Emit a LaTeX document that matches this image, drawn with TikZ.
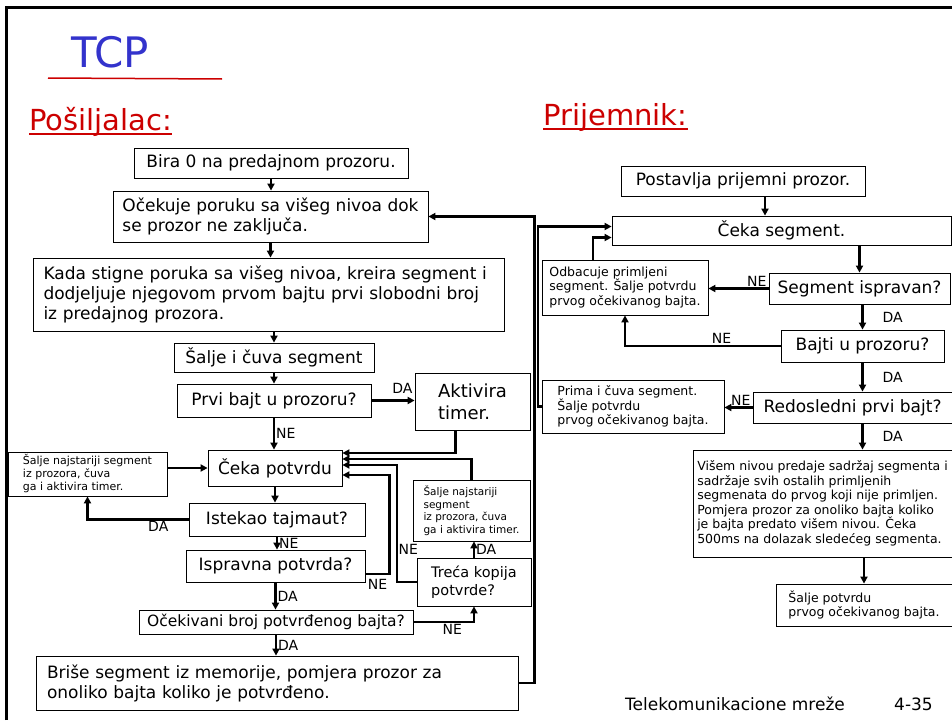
\documentclass[tikz,border=0pt]{standalone}
\usepackage{fontspec}
\setmainfont{DejaVu Sans}
\usepackage{tikz}
\usetikzlibrary{arrows.meta,calc,positioning}
\definecolor{tcpblue}{RGB}{51,51,204}
\definecolor{tcpred}{RGB}{204,0,0}

\begin{document}
\begin{tikzpicture}[x=1pt,y=-1pt,
    box/.style 2 args={draw,line width=0.8pt,minimum width=#1,minimum height=#2,inner sep=2pt,align=left,font=\fontsize{17}{20}\selectfont},
    smalltxt/.style={font=\fontsize{11}{13}\selectfont},
    midtxt/.style={font=\fontsize{12.5}{14.5}\selectfont},
    arr/.style={line width=2.2pt,-{Triangle[length=7pt,width=7pt]}},
    lab/.style={font=\fontsize{14}{14}\selectfont,inner sep=1pt}]
\useasboundingbox (0,0) rectangle (952,720);
\draw[line width=3pt] (6,720) -- (6,7) -- (952,7);

\node[text=tcpblue,font=\fontsize{42}{42}\selectfont,anchor=base west,inner sep=0pt] (tcp) at (71,67) {TCP};
\draw[tcpred,line width=1.5pt] (48,78) -- (222,79);
\node[text=tcpred,font=\fontsize{29}{29}\selectfont,anchor=base west,inner sep=0pt] (posiljalac) at (29,130) {Pošiljalac:};
\draw[tcpred,line width=2pt] ([yshift=-4pt]posiljalac.base west) -- ([yshift=-4pt]posiljalac.base east);
\node[text=tcpred,font=\fontsize{29}{29}\selectfont,anchor=base west,inner sep=0pt] (prijemnik) at (543,125) {Prijemnik:};
\draw[tcpred,line width=2pt] ([yshift=-4pt]prijemnik.base west) -- ([yshift=-4pt]prijemnik.base east);

\node[box={274}{30}] (bira) at (271,163) {Bira 0 na predajnom prozoru.};
\node[box={315}{51}] (ocekuje) at (270.5,216.5) {Očekuje poruku sa višeg nivoa dok\\se prozor ne zaključa.};
\node[box={471}{73},text width=450] (kada) at (268.5,294.5) {Kada stigne poruka sa višeg nivoa, kreira segment i\\dodjeljuje njegovom prvom bajtu prvi slobodni broj\\iz predajnog prozora.};
\node[box={200}{29}] (salje) at (274,357.5) {Šalje i čuva segment};
\node[box={194}{33}] (prvi) at (274,400.5) {Prvi bajt u prozoru?};
\node[box={115}{57},font=\fontsize{18}{22}\selectfont] (aktivira) at (472.5,401.5) {Aktivira\\timer.};
\node[box={134}{36}] (cekap) at (275,468) {Čeka potvrdu};
\node[box={159}{44},smalltxt] (najst1) at (87.5,474) {Šalje najstariji segment\\iz prozora, čuva\\ga i aktivira timer.};
\node[box={176}{33}] (istekao) at (277,519.5) {Istekao tajmaut?};
\node[box={179}{32}] (ispravna) at (275.5,566) {Ispravna potvrda?};
\node[box={274}{24},font=\fontsize{15.5}{18}\selectfont] (ocekivani) at (276,622) {Očekivani broj potvrđenog bajta?};
\node[box={114}{48},font=\fontsize{14.5}{18}\selectfont] (treca) at (474,582) {Treća kopija\\potvrde?};
\node[box={117}{61},font=\fontsize{10.5}{12.5}\selectfont] (najst2) at (471.5,510.5) {Šalje najstariji\\segment\\iz prozora, čuva\\ga i aktivira timer.};
\node[box={482}{54},text width=460] (brise) at (277,683) {Briše segment iz memorije, pomjera prozor za\\onoliko bajta koliko je potvrđeno.};

\node[box={244}{30}] (postavlja) at (743,181) {Postavlja prijemni prozor.};
\node[box={339}{29}] (cekas) at (781.5,230.5) {Čeka segment.};
\node[box={166}{55},midtxt] (odbacuje) at (625,287.5) {Odbacuje primljeni\\segment. Šalje potvrdu\\prvog očekivanog bajta.};
\node[box={181}{31}] (ispravan) at (859.5,288.5) {Segment ispravan?};
\node[box={163}{32}] (bajti) at (862.5,346) {Bajti u prozoru?};
\node[box={182}{53},midtxt] (prima) at (633,406.5) {Prima i čuva segment.\\Šalje potvrdu\\prvog očekivanog bajta.};
\node[box={199}{31}] (redosledni) at (852.5,407.5) {Redosledni prvi bajt?};
\node[box={259}{107},midtxt] (visem) at (822.5,503.5) {Višem nivou predaje sadržaj segmenta i\\sadržaje svih ostalih primljenih\\segmenata do prvog koji nije primljen.\\Pomjera prozor za onoliko bajta koliko\\je bajta predato višem nivou. Čeka\\500ms na dolazak sledećeg segmenta.};
\node[box={176}{42},midtxt] (saljep) at (864,605) {Šalje potvrdu\\prvog očekivanog bajta.};

\node[font=\fontsize{17}{17}\selectfont,anchor=base west,inner sep=0pt] (footer) at (625,710) {Telekomunikacione mreže};
\node[font=\fontsize{17}{17}\selectfont,anchor=base east,inner sep=0pt] (slidenum) at (933,710) {4-35};

\draw[arr] (bira.south) -- (bira.south |- ocekuje.north);
\draw[arr] (ocekuje.south) -- (ocekuje.south |- kada.north);
\draw[arr] (salje.north |- kada.south) -- (salje.north);
\draw[arr] (salje.south) -- (prvi.north);
\draw[arr] (prvi.east) -- (prvi.east -| aktivira.west) node[lab,pos=1,above left,yshift=5] (da1) {DA};
\draw[arr] (prvi.south) -- (prvi.south |- cekap.north) node[lab,midway,right] (ne1) {NE};
\draw[arr] ([xshift=-17]aktivira.south) |- ([yshift=15]cekap.east);
\draw[arr] (najst2.north) |- ([yshift=9]cekap.east);
\draw[arr] (treca.west) -- ++(-20,0) |- node[lab,pos=0.14,right] (ne4) {NE} ([yshift=3]cekap.east);
\draw[arr] ([yshift=-8]ispravna.east) -- ++(24,0) node[lab,below left,yshift=-3] (ne5) {NE} |- ([yshift=-7]cekap.east);
\draw[arr] (najst1.east |- cekap.west) -- (cekap.west);
\draw[arr] (cekap.south) -- (cekap.south |- istekao.north);
\draw[arr] (istekao.west) -| node[lab,pos=0.15,below] (da2) {DA} (najst1.south);
\draw[arr] (istekao.south) -- (istekao.south |- ispravna.north) node[lab,midway,right] (ne2) {NE};
\draw[arr] (ispravna.south) -- (ispravna.south |- ocekivani.north) node[lab,midway,right] (da3) {DA};
\draw[arr] (ocekivani.east) -| node[lab,pos=0.32,below] (ne3) {NE} (treca.south);
\draw[arr] (treca.north) -- (treca.north |- najst2.south) node[lab,midway,right] (da4) {DA};
\draw[arr] (ocekivani.south) -- (ocekivani.south |- brise.north) node[lab,midway,right] (da5) {DA};
\draw[arr] (brise.east) -- ++(16,0) |- (ocekuje.east);

\draw[arr] ([xshift=22]postavlja.south) -- ([xshift=22]postavlja.south |- cekas.north);
\draw[arr] (ispravan.north |- cekas.south) -- (ispravan.north);
\draw[arr] (ispravan.west) -- (odbacuje.east |- ispravan.west) node[lab,pos=0,above left] (ne6) {NE};
\draw[arr] (bajti.north |- ispravan.south) -- (bajti.north) node[lab,midway,right,xshift=18] (da6) {DA};
\draw[arr] (bajti.west) -| node[lab,pos=0.19,above] (ne7) {NE} (odbacuje.south);
\draw[arr] ([xshift=-32]odbacuje.north) |- ([yshift=-7]cekas.west);
\draw[arr] (bajti.south) -- (bajti.south |- redosledni.north) node[lab,midway,right,xshift=18] (da7) {DA};
\draw[arr] (redosledni.west) -- (prima.east |- redosledni.west) node[lab,pos=0,above left] (ne8) {NE};
\draw[arr] (prima.west) -- ++(-4,0) |- ([yshift=4]cekas.west);
\draw[arr] (bajti.south |- redosledni.south) -- (bajti.south |- visem.north) node[lab,midway,right,xshift=18] (da8) {DA};
\draw[arr] (saljep.north |- visem.south) -- (saljep.north);
\end{tikzpicture}
\end{document}
